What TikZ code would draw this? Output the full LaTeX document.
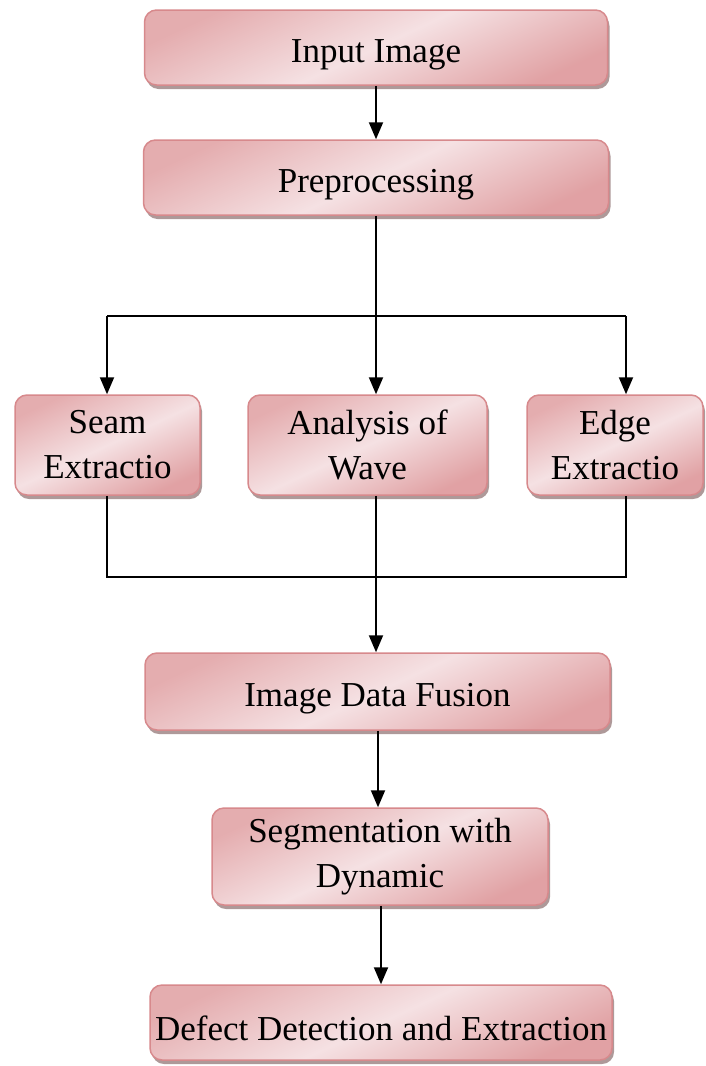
\documentclass[tikz,border=0pt]{standalone}
\usepackage{fontspec}
\setmainfont{Liberation Serif}
\usetikzlibrary{arrows.meta,shadows}
\definecolor{pinkdark}{HTML}{D98A8D}
\definecolor{pinklight}{HTML}{F5E1E3}
\definecolor{pinkedge}{HTML}{D7898C}
\definecolor{shadowc}{HTML}{9A8080}
\tikzset{
  box/.style={draw=pinkedge, line width=1.5pt, rounded corners=12pt,
    top color=pinkdark!70, bottom color=pinkdark!80, middle color=pinklight,
    shading angle=25,
    drop shadow={shadow xshift=2pt, shadow yshift=-4pt, fill=shadowc, opacity=0.8},
    align=center, inner sep=2pt, font=\fontsize{35}{45}\selectfont,
    execute at begin node={\rule{0pt}{37pt}}},
  arr/.style={line width=2pt, -{Triangle[length=17pt,width=14pt]}},
  ln/.style={line width=2pt}
}
\begin{document}
\begin{tikzpicture}[x=1pt,y=-1pt]
\useasboundingbox (0,0) rectangle (705,1066);
\node[box, minimum width=463pt, minimum height=75pt] (in) at (376,47.5) {Input Image};
\node[box, minimum width=465pt, minimum height=75pt] (pre) at (376,177.5) {Preprocessing};
\node[box, minimum width=185pt, minimum height=100pt] (seam) at (107.5,445) {Seam\\Extractio};
\node[box, minimum width=239pt, minimum height=100pt] (ana) at (367.5,445) {Analysis of\\Wave};
\node[box, minimum width=176pt, minimum height=100pt] (edge) at (615,445) {Edge\\Extractio};
\node[box, minimum width=465pt, minimum height=77pt] (fus) at (377.5,691.5) {Image Data Fusion};
\node[box, minimum width=336pt, minimum height=97pt] (seg) at (380,856.5) {Segmentation with\\Dynamic};
\node[box, minimum width=462pt, minimum height=75pt] (def) at (381,1022.5) {Defect Detection and Extraction};

\coordinate (sl) at (107,316);
\coordinate (sr) at (626,316);
\coordinate (jl) at (107,577);
\coordinate (jr) at (626,577);

\draw[arr] (in.south) -- (pre.north);
\draw[arr] (pre.south) -- (pre.south |- ana.north);
\draw[ln] (sl) -- (sr);
\draw[arr] (sl) -- (sl |- seam.north);
\draw[arr] (sr) -- (sr |- edge.north);
\draw[ln] (jl |- seam.south) -- (jl) -- (jr) -- (jr |- edge.south);
\draw[arr] (pre.south |- ana.south) -- (pre.south |- fus.north);
\draw[arr] (fus.south -| 378,0) -- (378,0 |- seg.north);
\draw[arr] (seg.south -| 381,0) -- (381,0 |- def.north);
\end{tikzpicture}
\end{document}
